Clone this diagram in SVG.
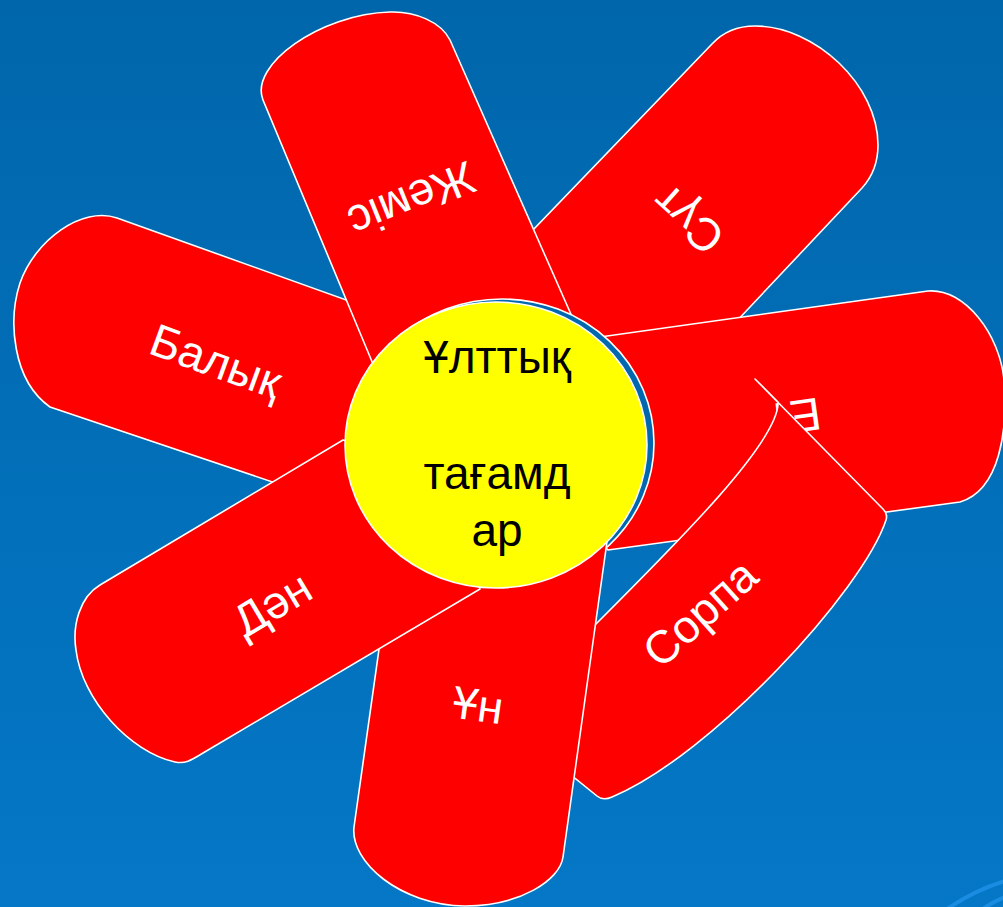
<svg xmlns="http://www.w3.org/2000/svg" width="1003" height="907" viewBox="0 0 1003 907">
<defs>
<linearGradient id="bg" x1="0" y1="0" x2="0" y2="1">
<stop offset="0" stop-color="#0066ab"/>
<stop offset="1" stop-color="#0477c6"/>
</linearGradient>
<style>
.petal{fill:#ff0000;stroke:#ffffff;stroke-width:1.6;stroke-linejoin:round}
.lbl{font-family:"Liberation Sans",Arial,sans-serif;font-size:46px;fill:#ffffff;text-anchor:middle}
.ctr{font-family:"Liberation Sans",Arial,sans-serif;font-size:46px;fill:#000000;text-anchor:middle}
.swoosh{fill:none;stroke:#1a8ce2;stroke-width:4}
</style>
</defs>
<rect x="0" y="0" width="1003" height="907" fill="url(#bg)"/>
<path class="swoosh" d="M947,909 Q975,890 1005,881"/>
<path class="swoosh" d="M983,909 Q992,902 1005,897"/>

<g id="sut">
<path class="petal" d="M480,285 L712,44 C724,31 738,26 755,26 C815,26 878,85 878,145 C878,162 872,177 862,188 L700,360 L560,420 Z"/>
<text class="lbl" transform="translate(688,220) rotate(-138)" x="0" y="16">Сүт</text>
</g>
<g id="balyk">
<path class="petal" d="M430,330 L117,218 C82,206 35,240 20,283 C8,320 12,380 50,407 L400,525 Z"/>
<text class="lbl" transform="translate(216,361) rotate(20)" x="0" y="16">Балық</text>
</g>
<g id="et">
<path class="petal" d="M560,420 L600,337 L928,291 C965,288 1000,335 1004,380 C1008,430 1000,490 960,502 L608,550 L560,500 Z"/>
<text class="lbl" transform="translate(795,417) rotate(172)" x="0" y="16">Ет</text>
</g>
<g id="zhemis">
<path class="petal" d="M600,380 L450,40 C441,22 415,11 390,12 C320,14 249,65 263,100 L388,400 Z"/>
<text class="lbl" transform="translate(412,200) rotate(158)" x="0" y="16">Жеміс</text>
</g>
<g id="sorpa">
<path class="petal" d="M755,379 L883,509 Q888,514 886,520 C863,590 712,755 612,797 Q603,801 597,796 L540,750 L560,660 L597,623 C680,540 780,440 778,402 Z"/>
<text class="lbl" transform="translate(700,613) rotate(-42)" x="0" y="16">Сорпа</text>
</g>
<g id="ring">
<ellipse cx="502" cy="443" rx="152" ry="144" fill="#0068ae" stroke="#ffffff" stroke-width="1.6"/>
</g>
<g id="un">
<path class="petal" d="M400,500 L354,827 C350,862 400,905 465,906 C520,906 560,880 563,857 L610,520 Z"/>
<text class="lbl" transform="translate(478,705) rotate(8)" x="0" y="16">Ұн</text>
</g>
<g id="dan">
<path class="petal" d="M343,440 L100,585 C80,597 72,625 76,650 C82,700 130,752 175,762 C185,764 190,761 203,753 L480,589 L440,470 Z"/>
<text class="lbl" transform="translate(272,604) rotate(-31)" x="0" y="16">Дән</text>
</g>
<g id="center">
<ellipse cx="496" cy="445" rx="151" ry="143" fill="#ffff00" stroke="#ffffff" stroke-width="1.6"/>
<text class="ctr" x="497" y="373">Ұлттық</text>
<text class="ctr" x="497" y="489">тағамд</text>
<text class="ctr" x="497" y="546">ар</text>
</g>
</svg>
